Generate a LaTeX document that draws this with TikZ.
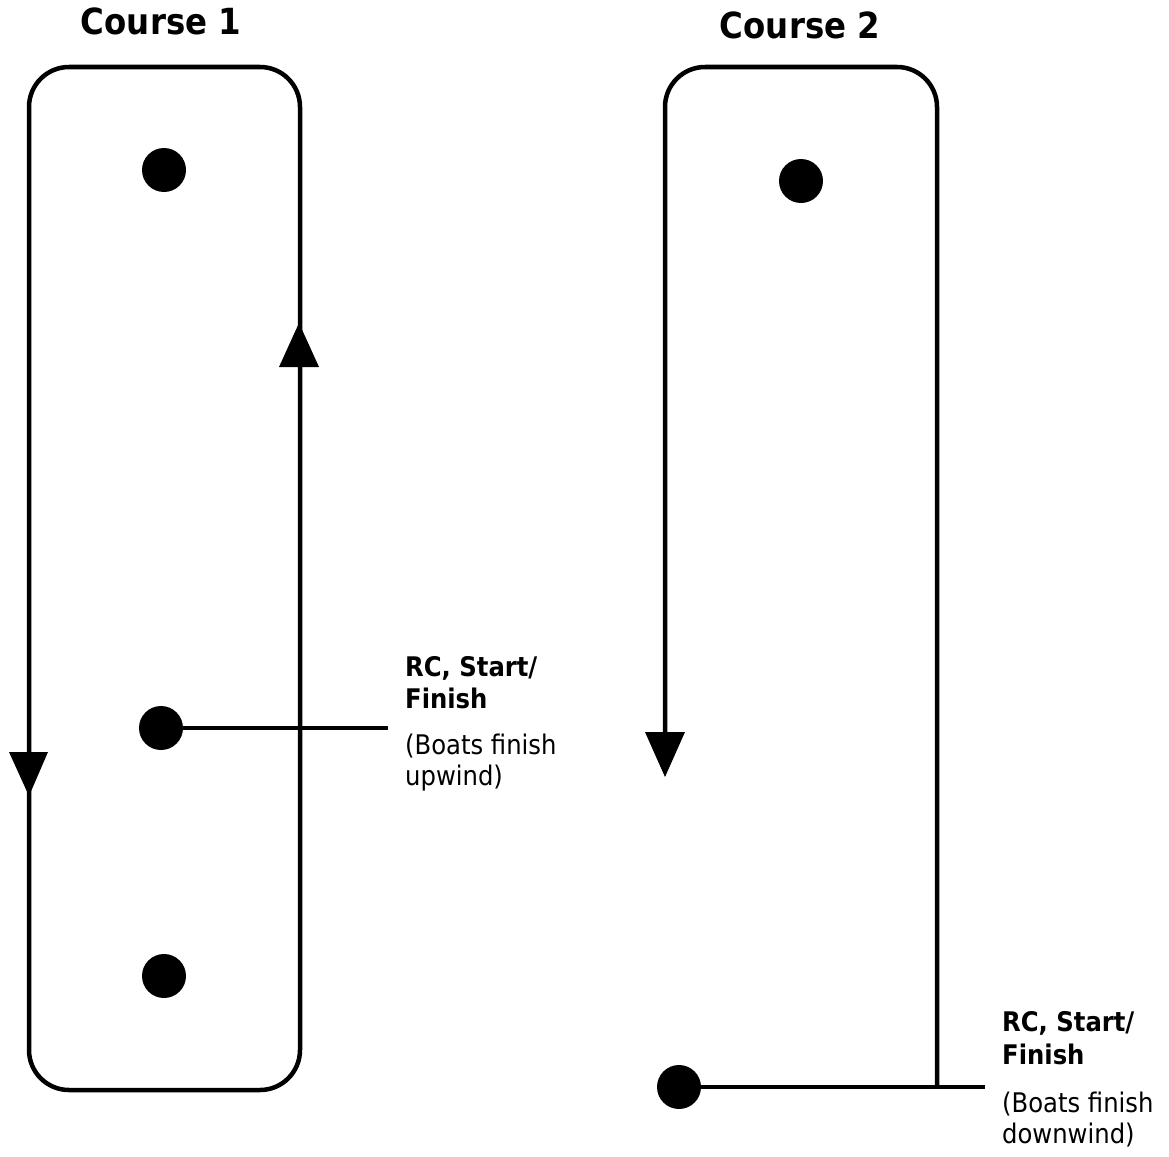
\documentclass[tikz,border=0pt]{standalone}
\usepackage{fontspec}
\setmainfont{DejaVu Sans Condensed}
\begin{document}
\begin{tikzpicture}[x=1pt,y=-1pt,
  course/.style={line width=4.5pt,line join=round},
  buoy/.style={circle,fill=black,inner sep=0pt,minimum size=44pt},
  tip/.style={fill=black},
  title/.style={inner sep=0pt,anchor=base,font=\fontsize{36}{40}\selectfont\bfseries},
  lblbold/.style={inner sep=0pt,anchor=base west,font=\fontsize{27}{32}\selectfont\bfseries},
  lbl/.style={inner sep=0pt,anchor=base west,font=\fontsize{27}{32}\selectfont}]
\useasboundingbox (0,0) rectangle (1169,1156);
% titles
\node[title] (t1) at (161,35) {Course 1};
\node[title] (t2) at (800,38) {Course 2};
% course 1
\draw[course,rounded corners=40pt] (29,752) -- (29,67) -- (300,67) -- (300,1090) -- (29,1090) -- (29,790);
\draw[course] (29,752) -- (29,800);
\fill[tip] (9,752) -- (48,752) -- (29,796) -- cycle;
\fill[tip] (279,367) -- (319,367) -- (299,323) -- cycle;
\node[buoy] (a1) at (164,170) {};
\node[buoy] (a2) at (161,728) {};
\node[buoy] (a3) at (164,976) {};
\coordinate (e1) at (388,728);
\draw[course] (a2) -- (e1);
\node[lblbold] (l1a) at (405,676) {RC, Start/};
\node[lblbold] (l1b) at (405,708) {Finish};
\node[lbl] (l1c) at (405,754) {(Boats finish};
\node[lbl] (l1d) at (405,785) {upwind)};
% course 2
\draw[course,rounded corners=40pt] (665,732) -- (665,67) -- (937,67) -- (937,1087);
\fill[tip] (645,732) -- (685,732) -- (665,777) -- cycle;
\node[buoy] (b1) at (801,181) {};
\node[buoy] (b2) at (679,1087) {};
\coordinate (e2) at (985,1087);
\draw[course] (b2) -- (e2);
\node[lblbold] (l2a) at (1002,1031) {RC, Start/};
\node[lblbold] (l2b) at (1002,1064) {Finish};
\node[lbl] (l2c) at (1002,1112) {(Boats finish};
\node[lbl] (l2d) at (1002,1143) {downwind)};
\end{tikzpicture}
\end{document}
